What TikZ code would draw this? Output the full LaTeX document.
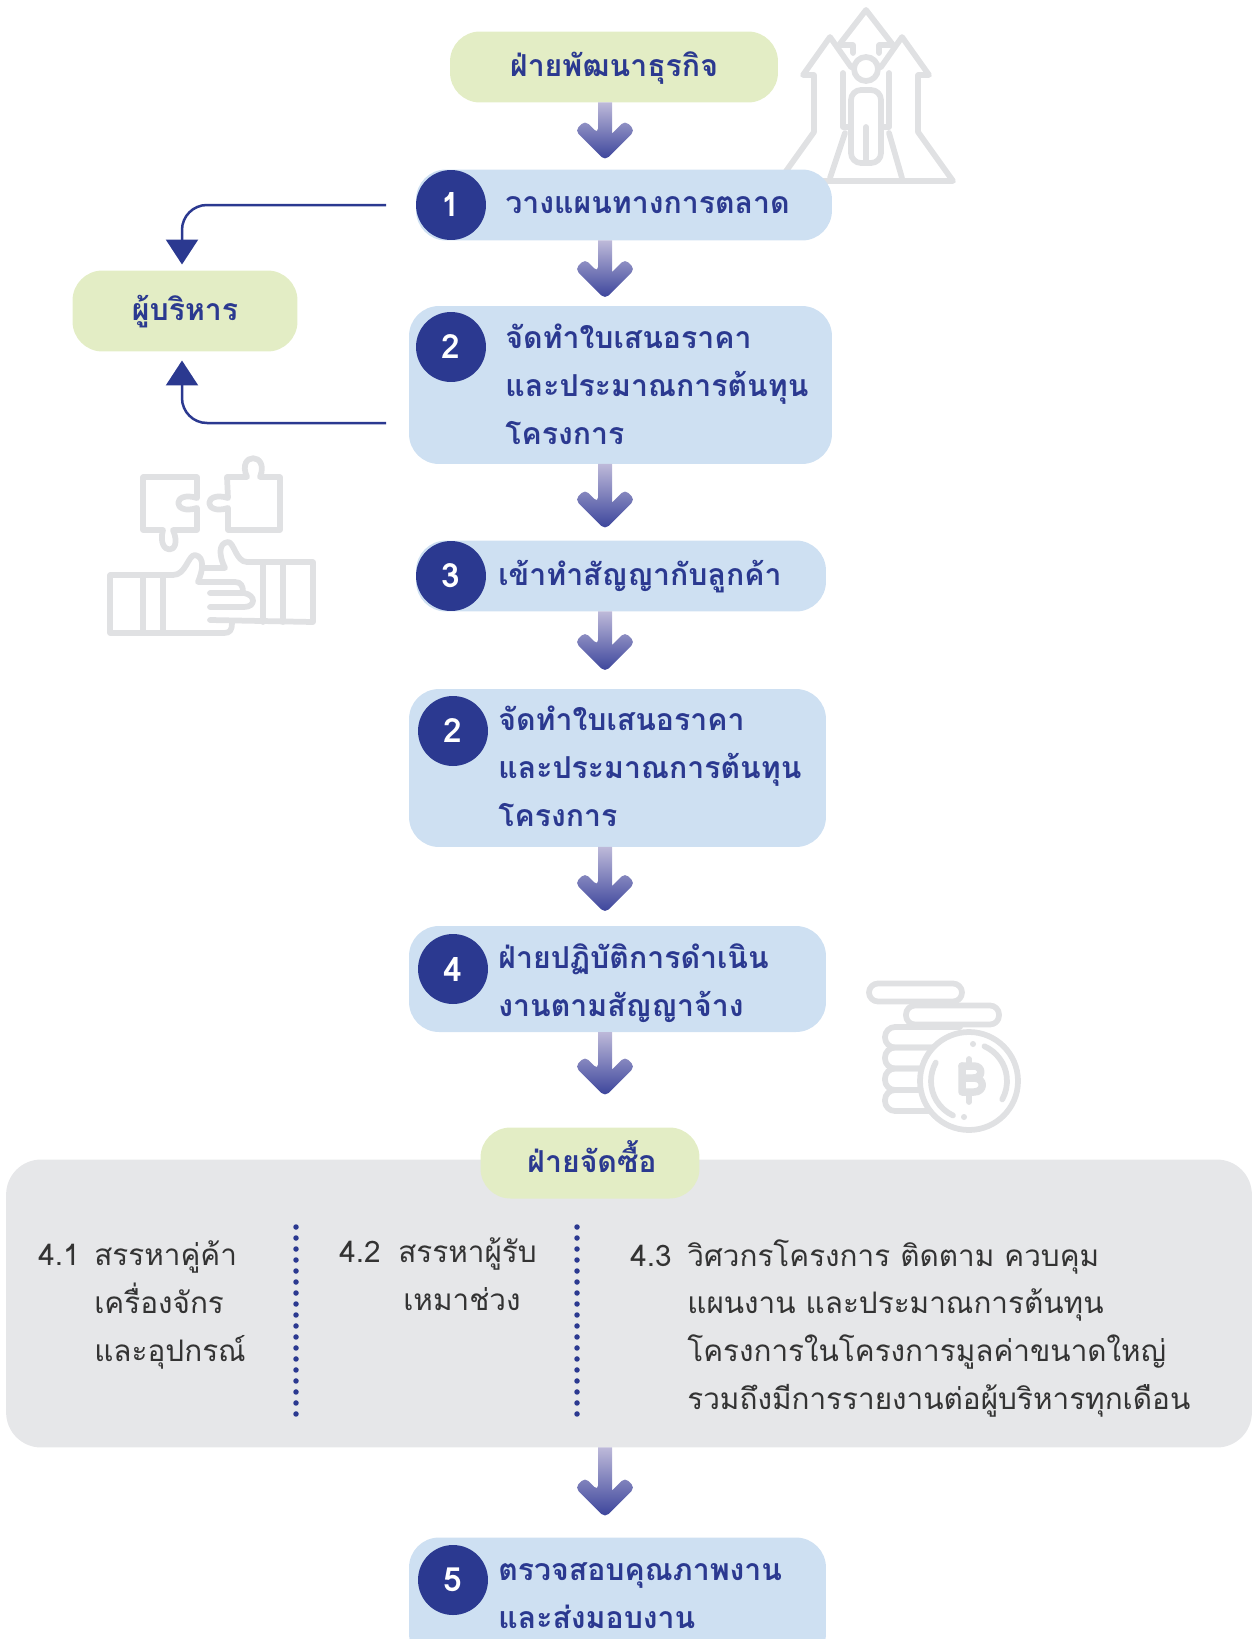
\documentclass[tikz,border=0pt]{standalone}
\usepackage{fontspec}
\newfontfamily\thaifont[Script=Thai]{Loma}
\usetikzlibrary{arrows.meta,calc}
\definecolor{navy}{HTML}{2B3990}
\definecolor{pillgreen}{HTML}{E3EDC5}
\definecolor{boxblue}{HTML}{CEE0F2}
\definecolor{panelgrey}{HTML}{E6E7E9}
\definecolor{icongrey}{HTML}{E0E1E3}
\definecolor{arrowtop}{HTML}{BDB9D9}
\definecolor{arrowbot}{HTML}{39429A}
\definecolor{bodyink}{HTML}{333333}
\tikzset{pill/.style={fill=pillgreen,rounded corners=0.6cm,inner sep=0,outer sep=0},
  stepbox/.style={fill=boxblue,rounded corners=0.6cm,inner sep=0,outer sep=0},
  numdot/.style={circle,fill=navy,text=white,minimum size=1.4cm,inner sep=0,outer sep=0,
    font=\fontsize{19}{22}\selectfont\thaifont\bfseries},
  headtext/.style={text=navy,inner sep=0,align=left,
    font=\fontsize{17.2}{27.1}\selectfont\thaifont\bfseries},
  bodytext/.style={text=bodyink,inner sep=0,align=left,
    font=\fontsize{16.9}{27.1}\selectfont\thaifont},
  icon/.style={draw=icongrey,line width=0.115cm,line join=round,line cap=round},
  feed/.style={draw=navy,line width=0.05cm,rounded corners=0.5cm,
    -{Triangle[width=0.64cm,length=0.5cm]}},
  divider/.style={draw=navy,line width=0.11cm,line cap=round,dash pattern=on 0pt off 0.22cm},
  flowgrad/.style={top color=arrowtop,bottom color=arrowbot,draw=none}}
\newcommand{\numtag}[2]{\makebox[#1][l]{#2}}
\newcommand{\flowarrow}[3]{%
  \shade[flowgrad,rounded corners=0.1cm] ($(#2.north -| ax)+(0,-#3)$) -- ++(-30,-30) -- ++(10,-10) -- ++(13,13)
    [sharp corners] -- ($(#1.south -| ax)+(-7,0)$) -- ($(#1.south -| ax)+(7,0)$) -- ($(#2.north -| ax)+(7,-#3-27)$)
    [rounded corners=0.1cm] -- ++(13,-13) -- ++(10,10) -- cycle;}
\begin{document}
\begin{tikzpicture}[x=0.02cm,y=-0.02cm]
  \useasboundingbox (0,0) rectangle (1252,1639);
  \clip (0,0) rectangle (1252,1639);
  \coordinate (ax) at (605,0);
  % rocket
  \draw[icon] (851,67) -- (830,37) -- (803,75) -- (814,75) -- (814,132) -- (779,181) -- (953,181) -- (918,132)
    -- (918,75) -- (929,75) -- (902,37) -- (881,67);
  \draw[icon] (853,53) -- (853,45) -- (839,45) -- (866,10) -- (893,45) -- (879,45) -- (879,53);
  \draw[icon] (866,69) circle[radius=12];
  \draw[icon] (843,73) -- (843,127) -- (851,127);
  \draw[icon] (889,73) -- (889,127) -- (881,127);
  \draw[icon,rounded corners=0.2cm] (851,163) -- (851,90) -- (881,90) -- (881,163) -- cycle;
  \draw[icon] (866,127) -- (866,163);
  \draw[icon] (845,133) -- (830,178);
  \draw[icon] (889,133) -- (902,178);
  % puzzle and hands
  \draw[icon] (143,477) -- (197,477) -- (197,498) .. controls (172,490) and (172,516) .. (197,508) -- (197,530)
    -- (173,530) .. controls (184,556) and (156,556) .. (163,530) -- (143,530) -- cycle;
  \draw[icon] (227,477) -- (247,477) .. controls (236,452) and (270,452) .. (260,477) -- (280,477) -- (280,530)
    -- (228,530) -- (228,508) .. controls (203,516) and (203,490) .. (228,498) -- cycle;
  \draw[icon] (232,623) .. controls (232,630) and (230,633) .. (224,633) -- (110,633) -- (110,575) -- (173,575)
    .. controls (186,575) and (188,555) .. (195,555) .. controls (205,557) and (203,570) .. (198,582)
    -- (235,582) .. controls (241,582) and (243,586) .. (243,592);
  \draw[icon] (143,575) -- (143,633);
  \draw[icon] (163,575) -- (163,633);
  \draw[icon] (210,593) -- (244,593) .. controls (256,595) and (256,607) .. (244,607) -- (210,607);
  \draw[icon] (210,620) -- (313,622) -- (313,562) -- (247,562) .. controls (236,562) and (234,542) .. (228,542)
    .. controls (218,543) and (219,556) .. (225,568) -- (203,568);
  \draw[icon] (263,562) -- (263,622);
  \draw[icon] (283,562) -- (283,622);
  % coins
  \draw[icon,rounded corners=0.18cm] (869,983.5) rectangle (962,1001.5);
  \draw[icon,rounded corners=0.18cm] (906,1005.5) rectangle (999,1024.5);
  \draw[icon,rounded corners=0.2cm] (960,1027) -- (885,1027) -- (885,1047.5) -- (960,1047.5);
  \draw[icon,rounded corners=0.2cm] (960,1047.5) -- (885,1047.5) -- (885,1068.5) -- (960,1068.5);
  \draw[icon,rounded corners=0.2cm] (960,1068.5) -- (885,1068.5) -- (885,1090) -- (960,1090);
  \draw[icon,rounded corners=0.2cm] (960,1090) -- (885,1090) -- (885,1111) -- (960,1111);
  \draw[icon,fill=white] (969,1081) circle[radius=49];
  \draw[icon] (969,1081) ++(66:0.76cm) arc[start angle=66,end angle=-29,radius=0.76cm];
  \draw[icon] (969,1081) ++(151:0.76cm) arc[start angle=151,end angle=245,radius=0.76cm];
  \fill[icongrey] (973,1044) circle[radius=3];
  \fill[icongrey] (964,1117) circle[radius=3];
  \draw[icon,line width=0.15cm] (962,1066) -- (962,1092) -- (974,1092) .. controls (985,1092) and (985,1078) .. (974,1078) -- (962,1078);
  \draw[icon,line width=0.15cm] (974,1078) .. controls (983,1078) and (983,1066) .. (974,1066) -- (962,1066);
  \draw[icon] (969,1059) -- (969,1066);
  \draw[icon] (969,1092) -- (969,1102);
  % panel and boxes
  \node[fill=panelgrey,rounded corners=0.7cm,inner sep=0,outer sep=0,minimum width=24.92cm,minimum height=5.76cm] (pan) at (629,1303.5) {};
  \node[pill,minimum width=6.56cm,minimum height=1.42cm] (top) at (614,67) {};
  \node[pill,minimum width=4.5cm,minimum height=1.62cm] (ex) at (185,311) {};
  \node[pill,minimum width=4.38cm,minimum height=1.42cm] (buy) at (590,1163) {};
  \node[stepbox,minimum width=8.32cm,minimum height=1.42cm] (s1) at (624,205) {};
  \node[stepbox,minimum width=8.46cm,minimum height=3.16cm] (s2) at (620.5,385) {};
  \node[stepbox,minimum width=8.2cm,minimum height=1.42cm] (s3) at (621,576) {};
  \node[stepbox,minimum width=8.34cm,minimum height=3.16cm] (s4) at (617.5,768) {};
  \node[stepbox,minimum width=8.34cm,minimum height=2.12cm] (s5) at (617.5,979) {};
  \node[stepbox,minimum width=8.34cm,minimum height=2.52cm] (s6) at (617.5,1600.5) {};
  \node[numdot] (n1) at (451,205) {1};
  \node[numdot] (n2) at (451,347) {2};
  \node[numdot] (n3) at (451,576) {3};
  \node[numdot] (n4) at (453,731) {2};
  \node[numdot] (n5) at (453,969) {4};
  \node[numdot] (n6) at (453,1580) {5};
  % labels
  \node[headtext,anchor=base] (ttop) at (614,77) {ฝ่ายพัฒนาธุรกิจ};
  \node[headtext,anchor=base] (tex) at (185,320) {ผู้บริหาร};
  \node[headtext,anchor=base] (tbuy) at (592,1172) {ฝ่ายจัดซื้อ};
  \node[headtext,anchor=base west] (t1) at (505,213) {วางแผนทางการตลาด};
  \node[headtext,anchor=base west] (t2) at (505,444) {จัดทำใบเสนอราคา\\และประมาณการต้นทุน\\โครงการ};
  \node[headtext,anchor=base west] (t3) at (498,585) {เข้าทำสัญญากับลูกค้า};
  \node[headtext,anchor=base west] (t4) at (498,826) {จัดทำใบเสนอราคา\\และประมาณการต้นทุน\\โครงการ};
  \node[headtext,anchor=base west] (t5) at (498,1016) {ฝ่ายปฏิบัติการดำเนิน\\งานตามสัญญาจ้าง};
  \node[headtext,anchor=base west] (t6) at (498,1628) {ตรวจสอบคุณภาพงาน\\และส่งมอบงาน};
  \node[bodytext,anchor=base west] (b1) at (38,1361) {\numtag{1.12cm}{4.1}สรรหาคู่ค้า\\\numtag{1.12cm}{}เครื่องจักร\\\numtag{1.12cm}{}และอุปกรณ์};
  \node[bodytext,anchor=base west] (b2) at (339,1310) {\numtag{1.18cm}{4.2}สรรหาผู้รับ\\\numtag{1.28cm}{}เหมาช่วง};
  \node[bodytext,anchor=base west] (b3) at (630,1409) {\numtag{1.14cm}{4.3}วิศวกรโครงการ ติดตาม ควบคุม\\\numtag{1.14cm}{}แผนงาน และประมาณการต้นทุน\\\numtag{1.14cm}{}โครงการในโครงการมูลค่าขนาดใหญ่\\\numtag{1.14cm}{}รวมถึงมีการรายงานต่อผู้บริหารทุกเดือน};
  % dividers
  \coordinate (d1a) at (296,1227);
  \coordinate (d1b) at (296,1415);
  \coordinate (d2a) at (577,1227);
  \coordinate (d2b) at (577,1415);
  \draw[divider] (d1a) -- (d1b);
  \draw[divider] (d2a) -- (d2b);
  % connectors
  \coordinate (f1) at (386,205);
  \coordinate (f2) at (386,423);
  \draw[feed] (f1) -| ($(ex.north)+(-3,-6)$);
  \draw[feed] (f2) -| ($(ex.south)+(-3,9)$);
  \flowarrow{top}{s1}{9}
  \flowarrow{s1}{s2}{7}
  \flowarrow{s2}{s3}{11}
  \flowarrow{s3}{s4}{17}
  \flowarrow{s4}{s5}{13}
  \flowarrow{s5}{buy}{31}
  \flowarrow{pan}{s6}{20}
\end{tikzpicture}
\end{document}
